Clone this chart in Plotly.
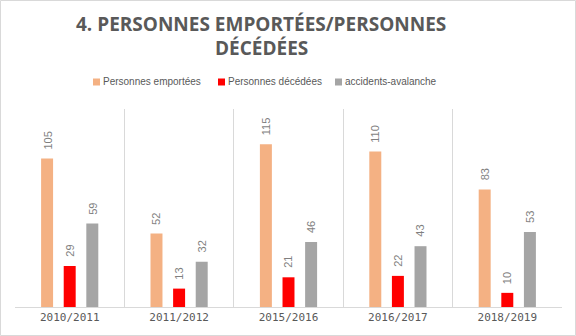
import plotly.graph_objects as go

categories = ["2010/2011", "2011/2012", "2015/2016", "2016/2017", "2018/2019"]
emportees = [105, 52, 115, 110, 83]
decedees = [29, 13, 21, 22, 10]
accidents = [59, 32, 46, 43, 53]

series = [
    ("Personnes emportées", emportees, "#F4B183"),
    ("Personnes décédées", decedees, "#FF0000"),
    ("accidents-avalanche", accidents, "#A5A5A5"),
]
title_lines = ["4. PERSONNES EMPORTÉES/PERSONNES", "DÉCÉDÉES"]

W, H = 576, 336
ML, MR, MT, MB = 15, 14, 109, 29
PW, PH = W - ML - MR, H - MT - MB


def px_x(x):
    return (x - ML) / PW


def px_y(y):
    return (PH + MT - y) / PH


fig = go.Figure()
for name, vals, col in series:
    fig.add_trace(go.Bar(x=categories, y=vals, name=name, marker_color=col,
                         marker_line_width=0, showlegend=False))

# data labels
slot = PW / len(categories) * (1 - 0.38) / 3
for k, (name, vals, col) in enumerate(series):
    for c, v in zip(categories, vals):
        fig.add_annotation(x=c, y=v, text=str(v), showarrow=False, textangle=-90,
                           xshift=(k - 1) * slot, yshift=7, yanchor="bottom",
                           font=dict(family="Liberation Sans", size=11, color="#7F7F7F"))

# title
for line, yc in zip(title_lines, [24, 48]):
    fig.add_annotation(xref="paper", yref="paper", x=px_x(261), y=px_y(yc),
                       text="<b>" + line + "</b>", showarrow=False,
                       xanchor="center", yanchor="middle",
                       font=dict(family="Open Sans", size=19, color="#595959"))

# legend (custom)
legend_sq_x = [93, 218, 335]
for (name, vals, col), sx in zip(series, legend_sq_x):
    fig.add_shape(type="rect", xref="paper", yref="paper",
                  x0=px_x(sx), x1=px_x(sx + 7), y0=px_y(85.5), y1=px_y(78.5),
                  fillcolor=col, line=dict(width=0))
    fig.add_annotation(xref="paper", yref="paper", x=px_x(sx + 8), y=px_y(82),
                       text=name, showarrow=False, xanchor="left", yanchor="middle",
                       font=dict(family="Liberation Sans", size=10, color="#595959"))

# outer border
fig.add_shape(type="rect", xref="paper", yref="paper",
              x0=px_x(0.5), x1=px_x(W - 0.5), y0=px_y(H - 0.5), y1=px_y(0.5),
              line=dict(color="#D9D9D9", width=1), layer="below")

fig.update_layout(
    width=W, height=H,
    margin=dict(l=ML, r=MR, t=MT, b=MB),
    paper_bgcolor="white", plot_bgcolor="white",
    barmode="group", bargap=0.38, bargroupgap=0.47,
    showlegend=False,
    xaxis=dict(type="category", tickson="boundaries", showgrid=True,
               gridcolor="#D9D9D9", gridwidth=1, showline=True, linecolor="#D9D9D9",
               ticks="", tickfont=dict(family="DejaVu Sans Mono", size=11, color="#595959"),
               fixedrange=True),
    yaxis=dict(range=[0, 140], visible=False, showgrid=False, zeroline=False),
)

fig.write_html("out.html")
